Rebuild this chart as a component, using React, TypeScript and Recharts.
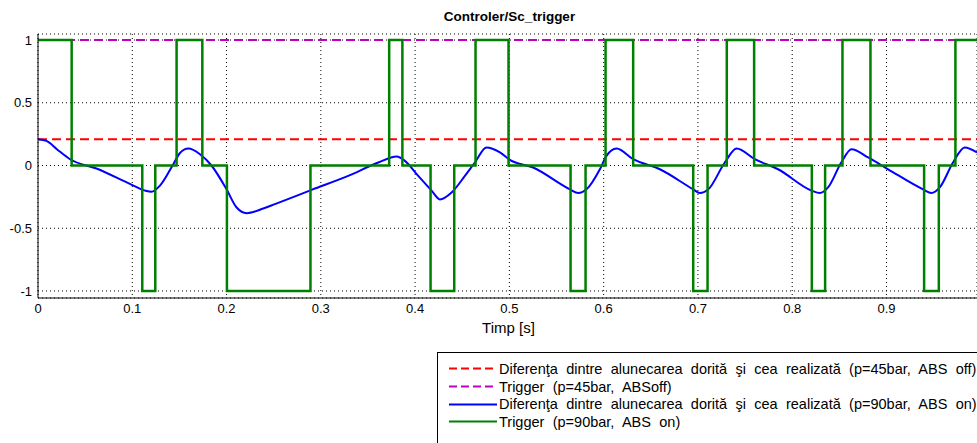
import React from "react";
import {
  LineChart,
  Line,
  XAxis,
  YAxis,
  CartesianGrid,
} from "recharts";

// time axis ticks and value ticks
const xTicks = [0, 0.1, 0.2, 0.3, 0.4, 0.5, 0.6, 0.7, 0.8, 0.9];
const yTicks = [-1, -0.5, 0, 0.5, 1];

// p=45bar, ABS off: both signals are flat
const diff45Time = [0, 0.996];
const diff45Value = [0.21, 0.21];
const trig45Time = [0, 0.996];
const trig45Value = [1, 1];

// p=90bar, ABS on: slip difference
const diff90Time = [
  0, 0.009, 0.02, 0.034, 0.062, 0.098, 0.1135, 0.1205, 0.1294, 0.1435, 0.1506,
  0.1594, 0.1718, 0.184, 0.2, 0.2107, 0.2213, 0.239, 0.2513, 0.2902, 0.329,
  0.3609, 0.3804, 0.3892, 0.4033, 0.4175, 0.4263, 0.4387, 0.4528, 0.4634,
  0.4758, 0.49, 0.5005, 0.5252, 0.5642, 0.573, 0.5818, 0.596, 0.603, 0.6137,
  0.6313, 0.6596, 0.695, 0.702, 0.711, 0.7285, 0.741, 0.7603, 0.785, 0.8205,
  0.8293, 0.838, 0.852, 0.8629, 0.8805, 0.9017, 0.9388, 0.9477, 0.9565, 0.9706,
  0.983, 0.996,
];
const diff90Value = [
  0.21, 0.196, 0.13, 0.05, -0.024, -0.149, -0.2, -0.21, -0.16, 0.01, 0.1,
  0.135, 0.09, 0, -0.19, -0.335, -0.38, -0.343, -0.308, -0.194, -0.083,
  0.024, 0.072, 0.037, -0.083, -0.2, -0.27, -0.215, -0.083, 0.024,
  0.143, 0.104, 0.045, -0.016, -0.19, -0.22, -0.19, -0.03, 0.077, 0.135,
  0.05, -0.03, -0.19, -0.22, -0.19, 0.024, 0.135, 0.05, -0.03, -0.2,
  -0.22, -0.175, 0.024, 0.13, 0.064, -0.03, -0.19, -0.22, -0.175, 0.024,
  0.143, 0.104,
];

// p=90bar, ABS on: trigger (value holds until next time)
const trig90Time = [
  0, 0.0357, 0.1106, 0.1244, 0.147, 0.1743, 0.2004, 0.289, 0.3725, 0.3865,
  0.4164, 0.4415, 0.4641, 0.4991, 0.5649, 0.5808, 0.602, 0.6313, 0.695, 0.7102,
  0.7306, 0.7596, 0.8208, 0.8349, 0.8533, 0.883, 0.9399, 0.9555, 0.9731, 0.996,
];
const trig90Value = [
  1, 0, -1, 0, 1, 0, -1, 0, 1, 0,
  -1, 0, 1, 0, -1, 0, 1, 0, -1, 0,
  1, 0, -1, 0, 1, 0, -1, 0, 1, 1,
];

const names = [
  "Diferenţa dintre alunecarea dorită şi cea realizată (p=45bar, ABS off)",
  "Trigger (p=45bar, ABSoff)",
  "Diferenţa dintre alunecarea dorită şi cea realizată (p=90bar, ABS on)",
  "Trigger (p=90bar, ABS on)",
];

const zip = (t: number[], v: number[]) => t.map((x, i) => ({ t: x, v: v[i] }));

const series = [
  { name: names[0], data: zip(diff45Time, diff45Value), color: "#ff0000", dash: "9 5", type: "linear", width: 2 },
  { name: names[1], data: zip(trig45Time, trig45Value), color: "#bf00bf", dash: "9 5", type: "linear", width: 2 },
  { name: names[2], data: zip(diff90Time, diff90Value), color: "#0000ff", dash: undefined, type: "monotone", width: 2 },
  { name: names[3], data: zip(trig90Time, trig90Value), color: "#008000", dash: undefined, type: "stepAfter", width: 2.5 },
];

const font = "'Liberation Sans', Arial, sans-serif";
const tickStyle = { fontSize: 13, fontFamily: font, fill: "#000" };

export default function App() {
  return (
    <div
      style={{
        position: "absolute",
        left: 0,
        top: 0,
        width: 977,
        height: 443,
        overflow: "hidden",
        background: "#fff",
        fontFamily: font,
      }}
    >
      <div
        style={{
          position: "absolute",
          left: 0,
          width: 1019,
          top: 9,
          textAlign: "center",
          fontSize: 13.5,
          fontWeight: "bold",
        }}
      >
        Controler/Sc_trigger
      </div>
      <LineChart
        width={977}
        height={443}
        margin={{ top: 34, right: 0, bottom: 0, left: 0 }}
      >
        <CartesianGrid stroke="#000" strokeDasharray="1 3" />
        <XAxis
          dataKey="t"
          type="number"
          domain={[0, 0.996]}
          ticks={xTicks}
          allowDataOverflow
          height={145}
          tickSize={0}
          tickMargin={6}
          tick={tickStyle}
          stroke="#000"
          interval={0}
        />
        <XAxis
          xAxisId="top"
          orientation="top"
          dataKey="t"
          type="number"
          domain={[0, 0.996]}
          height={0}
          tick={false}
          tickLine={false}
          stroke="#000"
        />
        <YAxis
          type="number"
          domain={[-1.056, 1.048]}
          ticks={yTicks}
          allowDataOverflow
          width={38}
          tickSize={0}
          tickMargin={6}
          tick={tickStyle}
          stroke="#000"
          interval={0}
        />
        {series.map((s) => (
          <Line
            key={s.name}
            data={s.data}
            dataKey="v"
            name={s.name}
            type={s.type as any}
            stroke={s.color}
            strokeWidth={s.width}
            strokeDasharray={s.dash}
            dot={false}
            activeDot={false}
            isAnimationActive={false}
          />
        ))}
      </LineChart>
      <div
        style={{
          position: "absolute",
          left: 0,
          width: 1017,
          top: 319,
          textAlign: "center",
          fontSize: 15,
        }}
      >
        Timp [s]
      </div>
      <div
        style={{
          position: "absolute",
          left: 437,
          top: 352,
          width: 600,
          height: 200,
          borderTop: "1px solid #000",
          borderLeft: "1px solid #000",
          background: "#fff",
          paddingTop: 7,
          boxSizing: "border-box",
        }}
      >
        {series.map((s) => (
          <div
            key={s.name}
            style={{ height: 17.7, display: "flex", alignItems: "center", whiteSpace: "nowrap" }}
          >
            <svg width={61} height={17} style={{ flex: "none" }}>
              <line
                x1={11}
                x2={59}
                y1={8.5}
                y2={8.5}
                stroke={s.color}
                strokeWidth={2}
                strokeDasharray={s.dash ? "8 4" : undefined}
              />
            </svg>
            <span style={{ fontSize: 14.5, wordSpacing: 4.3, color: "#000" }}>{s.name}</span>
          </div>
        ))}
      </div>
    </div>
  );
}
